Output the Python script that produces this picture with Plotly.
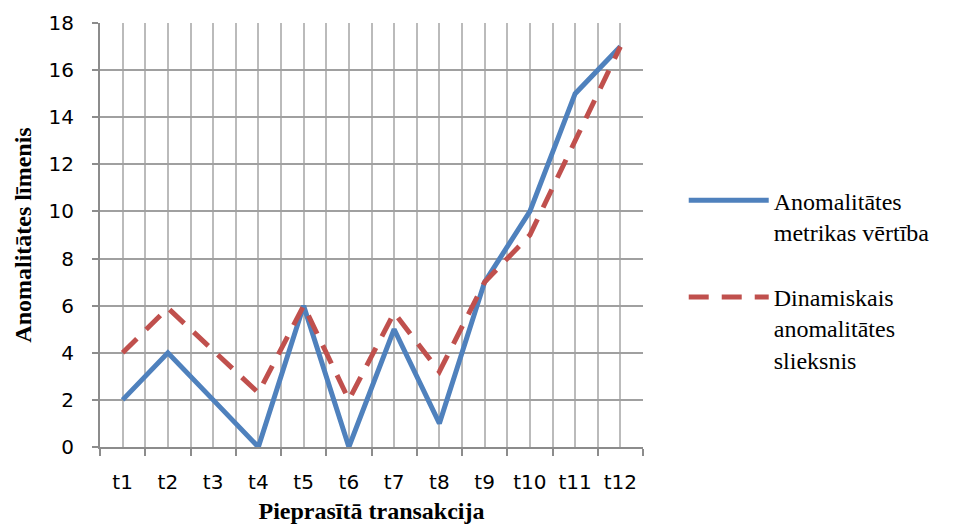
import plotly.graph_objects as go

# Transactions and the two series measured for each one
transactions = ["t1", "t2", "t3", "t4", "t5", "t6", "t7", "t8", "t9", "t10", "t11", "t12"]
metric_values = [2, 4, 2, 0, 6, 0, 5, 1, 7, 10, 15, 17]
threshold_values = [4, 5.9, 4.1, 2.3, 6, 2, 5.7, 3.2, 7, 9, 13, 17]
y_ticks = [0, 2, 4, 6, 8, 10, 12, 14, 16, 18]

positions = list(range(1, len(transactions) + 1))
boundaries = [p - 0.5 for p in positions] + [positions[-1] + 0.5]

serif = "Liberation Serif, Times New Roman, serif"
sans = "DejaVu Sans, Verdana, sans-serif"

fig = go.Figure()
fig.add_trace(go.Scatter(
    x=positions, y=metric_values, mode="lines",
    # trailing blank line keeps the symbol beside the first text line
    name="Anomalitātes<br>metrikas vērtība<br> ", legendgroup="metric",
    line=dict(color="#4F81BD", width=5),
))
fig.add_trace(go.Scatter(
    x=positions, y=threshold_values, mode="lines",
    name="Dinamiskais<br>anomalitātes<br>slieksnis", legendgroup="threshold",
    line=dict(color="#C0504D", width=5, dash="20px,13px"),
))

fig.update_layout(
    width=965, height=524,
    margin=dict(l=100, r=322, t=23, b=77),
    paper_bgcolor="white", plot_bgcolor="white",
    showlegend=True,
    legend=dict(
        x=1.075, y=0.634, xanchor="left", yanchor="top",
        font=dict(family=serif, size=24, color="#000"),
        itemwidth=80, valign="top", tracegroupgap=0,
        bgcolor="rgba(0,0,0,0)",
    ),
    xaxis=dict(
        range=[0.5, len(transactions) + 0.5],
        tickvals=positions, ticktext=transactions,
        ticks="", showgrid=True, gridcolor="#BBBBBB", gridwidth=1.5,
        tickfont=dict(family=sans, size=20, color="#000"),
        ticklabelstandoff=16, automargin=False,
        showline=True, linecolor="#8C8C8C", linewidth=2,
        zeroline=False,
        minor=dict(tickvals=boundaries, showgrid=True, gridcolor="#BBBBBB",
                   gridwidth=1.5, ticks="outside", ticklen=7,
                   tickcolor="#8C8C8C", tickwidth=2),
        title=dict(text="<b>Pieprasītā transakcija</b>",
                   font=dict(family=serif, size=24, color="#000"), standoff=17),
    ),
    yaxis=dict(
        range=[0, 18], tickvals=y_ticks,
        showgrid=True, gridcolor="#A0A0A0", gridwidth=1.5,
        ticks="outside", ticklen=6, tickcolor="#8C8C8C", tickwidth=2,
        tickfont=dict(family=sans, size=20, color="#000"),
        ticklabelstandoff=14, automargin=False,
        showline=True, linecolor="#8C8C8C", linewidth=2,
        zeroline=False,
        title=dict(text="<b>Anomalitātes līmenis</b>",
                   font=dict(family=serif, size=24, color="#000"), standoff=10),
    ),
)

fig.write_html("out.html")
